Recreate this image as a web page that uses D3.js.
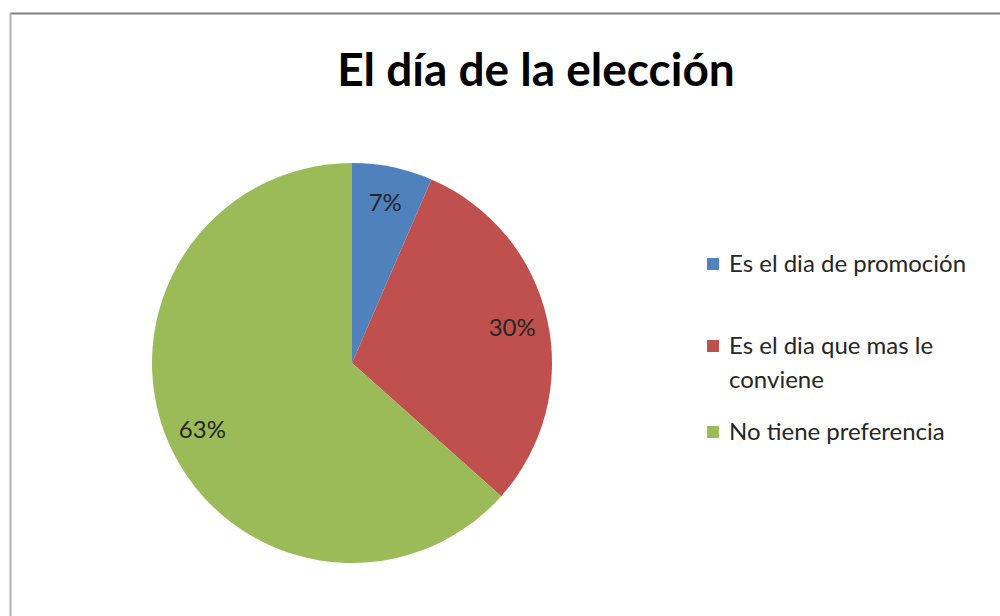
<!DOCTYPE html>
<html>
<head>
<meta charset="utf-8">
<script src="https://cdn.jsdelivr.net/npm/d3@7"></script>
<style>
  body { margin: 0; background: #fff; }
  svg { display: block; font-family: Lato, "Open Sans", sans-serif; }
</style>
</head>
<body>
<div class="container"></div>
<script>
var width = 1000;
var height = 616;

var title = 'El día de la elección';
var categories = ['Es el dia de promoción', 'Es el dia que mas le conviene', 'No tiene preferencia'];
var legendLines = [['Es el dia de promoción'], ['Es el dia que mas le', 'conviene'], ['No tiene preferencia']];
var values = [6.5, 30.1, 63.4];
var colors = ['#4f81bd', '#c0504d', '#9bbb59'];

var cx = 352, cy = 363, radius = 200;

var svg = d3.select('.container').append('svg')
    .attr('width', width)
    .attr('height', height);

// frame
svg.append('line').attr('x1', 10).attr('y1', 13.5).attr('x2', width).attr('y2', 13.5)
    .attr('stroke', '#7f7f7f').attr('stroke-width', 2);
svg.append('line').attr('x1', 10.5).attr('y1', 13).attr('x2', 10.5).attr('y2', height)
    .attr('stroke', '#b0b0b0').attr('stroke-width', 2);

svg.append('text')
    .attr('x', 536).attr('y', 86)
    .attr('text-anchor', 'middle')
    .attr('font-size', 46).attr('font-weight', 'bold')
    .attr('fill', '#000')
    .text(title);

var pie = d3.pie().sort(null).value(function(d) { return d; });
var arc = d3.arc().innerRadius(0).outerRadius(radius);
var labelArc = d3.arc().innerRadius(radius * 0.82).outerRadius(radius * 0.82);

var g = svg.append('g').attr('transform', 'translate(' + cx + ',' + cy + ')');
var arcs = pie(values);

g.selectAll('path').data(arcs).enter().append('path')
    .attr('d', arc)
    .attr('fill', function(d, i) { return colors[i]; });

g.selectAll('text').data(arcs).enter().append('text')
    .attr('transform', function(d) { return 'translate(' + labelArc.centroid(d) + ')'; })
    .attr('text-anchor', 'middle')
    .attr('dy', '0.35em')
    .attr('font-size', 24)
    .attr('fill', '#262626')
    .text(function(d) { return Math.round(d.data) + '%'; });

// legend
var legendY = [264, 346, 432];
var legend = svg.append('g');
categories.forEach(function(c, i) {
    legend.append('rect')
        .attr('x', 707).attr('y', legendY[i] - 6)
        .attr('width', 12).attr('height', 12)
        .attr('fill', colors[i]);
    legendLines[i].forEach(function(line, j) {
        legend.append('text')
            .attr('x', 729).attr('y', legendY[i] + j * 34)
            .attr('dy', '0.35em')
            .attr('font-size', 24)
            .attr('fill', '#262626')
            .text(line);
    });
});
</script>
</body>
</html>
